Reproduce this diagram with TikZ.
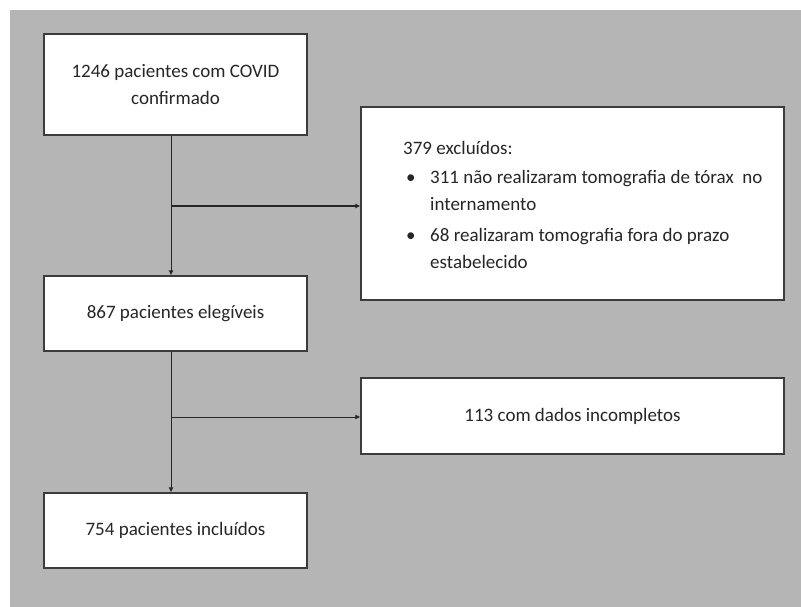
\documentclass[tikz,border=0pt]{standalone}
\usepackage{fontspec}
\setmainfont{Carlito}
\usetikzlibrary{arrows.meta}
\definecolor{panelgray}{HTML}{B5B5B5}
\definecolor{boxline}{HTML}{3C3C3C}
\definecolor{textgray}{HTML}{262626}
\newcommand{\bulletitem}{\makebox[27pt][l]{\hspace{3pt}•}}

\begin{document}
\begin{tikzpicture}[x=1pt, y=-1pt,
        box/.style={draw=boxline, line width=1.2pt, fill=white, text=textgray,
            font=\fontsize{19}{27}\selectfont, align=center, inner sep=0pt},
        main box/.style={box, minimum width=263pt, minimum height=75pt},
        side box/.style={box, minimum width=423pt},
        flow/.style={draw=black!85, line width=1pt, -{Latex[length=5pt,width=5pt]}}
    ]
    \useasboundingbox (0,0) rectangle (801,607);
    \fill[panelgray] (10,10) rectangle (801,607);

    % main column
    \node[main box, minimum height=101pt] (confirmed) at (175.5,84.5) {1246 pacientes com COVID\\confirmado};
    \node[main box] (eligible) at (175.5,313.5) {867 pacientes eleg\'iveis};
    \node[main box] (included) at (175.5,530.5) {754 pacientes inclu\'idos};

    % exclusions
    \node[side box, minimum height=193pt] (excluded) at (572.5,203.5) {};
    \node[anchor=west, align=left, inner sep=0pt, text=textgray,
        font=\fontsize{19}{27}\selectfont] (excludedtext) at (403,205)
        {379 exclu\'idos:\\[2pt]
         \bulletitem 311 não realizaram tomografia de tórax\ \ no\\
         \hspace*{27pt}internamento\\[4pt]
         \bulletitem 68 realizaram tomografia fora do prazo\\
         \hspace*{27pt}estabelecido};
    \node[side box, minimum height=76pt] (incomplete) at (572.5,416) {113 com dados incompletos};

    \coordinate (split1) at (171,206);
    \coordinate (split2) at (171,417);

    \draw[flow] (confirmed.south -| split1) -- (eligible.north -| split1);
    \draw[flow] (eligible.south -| split2) -- (included.north -| split2);
    \draw[flow] (split1) -- (split1 -| excluded.west);
    \draw[flow] (split2) -- (split2 -| incomplete.west);
\end{tikzpicture}
\end{document}
